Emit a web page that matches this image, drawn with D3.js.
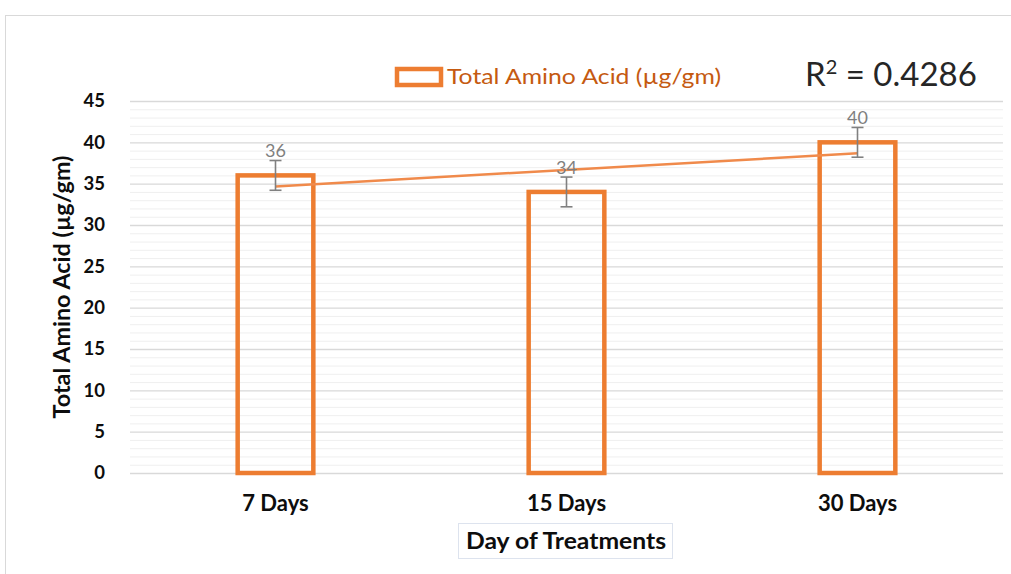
<!DOCTYPE html>
<html>
<head>
<meta charset="utf-8">
<script src="https://cdn.jsdelivr.net/npm/d3@7"></script>
<style>
  body { margin: 0; background: #fff; }
  svg { font-family: Lato, "Open Sans", sans-serif; }
</style>
</head>
<body>
<svg id="chart" width="1011" height="574"></svg>
<script>
const categories = ['7 Days', '15 Days', '30 Days'];
const values = [36, 34, 40];
const errors = [1.8, 1.8, 1.8];
const yTicks = [0, 5, 10, 15, 20, 25, 30, 35, 40, 45];
const seriesName = 'Total Amino Acid (µg/gm)';

const orange = '#ed7d31';
const margin = { left: 130, right: 1003, top: 101, bottom: 473 };

const svg = d3.select('#chart');

// chart frame
svg.append('rect')
  .attr('x', 5.5).attr('y', 15.5)
  .attr('width', 1020).attr('height', 580)
  .attr('fill', 'none')
  .attr('stroke', '#d9d9d9');

const x = d3.scaleBand()
  .domain(categories)
  .range([margin.left, margin.right])
  .paddingInner(0.74)
  .paddingOuter(0.37);

const y = d3.scaleLinear()
  .domain([0, 45])
  .range([margin.bottom, margin.top]);

// minor gridlines every 1 unit
svg.append('g')
  .selectAll('line')
  .data(d3.range(0, 46).filter(v => v % 5 !== 0))
  .join('line')
  .attr('x1', margin.left).attr('x2', margin.right)
  .attr('y1', d => y(d) + 0.5).attr('y2', d => y(d) + 0.5)
  .attr('stroke', '#efefef')
  .attr('stroke-width', 1);

// major gridlines + tick labels
const yAxis = svg.append('g')
  .attr('transform', `translate(${margin.left},0)`)
  .call(d3.axisLeft(y).tickValues(yTicks).tickSize(-(margin.right - margin.left)).tickPadding(25));
yAxis.select('.domain').remove();
yAxis.selectAll('.tick line').attr('stroke', '#d9d9d9').attr('stroke-width', 1.3);
yAxis.selectAll('.tick text')
  .attr('font-family', 'Lato, sans-serif')
  .attr('font-size', 18.5)
  .attr('font-weight', 700)
  .attr('fill', '#0d0d0d');

// bars (outline only)
svg.append('g')
  .selectAll('rect')
  .data(values)
  .join('rect')
  .attr('x', (d, i) => x(categories[i]))
  .attr('y', d => y(d))
  .attr('width', x.bandwidth())
  .attr('height', d => y(0) - y(d))
  .attr('fill', 'none')
  .attr('stroke', orange)
  .attr('stroke-width', 4.5);

// linear trendline fitted to bar values
const xs = values.map((d, i) => i + 1);
const mx = d3.mean(xs), my = d3.mean(values);
const slope = d3.sum(xs, (xv, i) => (xv - mx) * (values[i] - my)) / d3.sum(xs, xv => (xv - mx) ** 2);
const intercept = my - slope * mx;
const fit = xv => intercept + slope * xv;
const ssTot = d3.sum(values, v => (v - my) ** 2);
const ssRes = d3.sum(values, (v, i) => (v - fit(xs[i])) ** 2);
const r2 = 1 - ssRes / ssTot;

const cx = c => x(c) + x.bandwidth() / 2;
svg.append('line')
  .attr('x1', cx(categories[0]))
  .attr('y1', y(fit(1)))
  .attr('x2', cx(categories[categories.length - 1]))
  .attr('y2', y(fit(categories.length)))
  .attr('stroke', '#f08a4b')
  .attr('stroke-width', 2.5);

// error bars
const eb = svg.append('g').attr('stroke', '#808080').attr('stroke-width', 1.6);
values.forEach((v, i) => {
  const c = cx(categories[i]);
  eb.append('line').attr('x1', c).attr('x2', c).attr('y1', y(v + errors[i])).attr('y2', y(v - errors[i]));
  [v + errors[i], v - errors[i]].forEach(e => {
    eb.append('line').attr('x1', c - 6).attr('x2', c + 6).attr('y1', y(e)).attr('y2', y(e));
  });
});

// data labels
svg.append('g')
  .selectAll('text')
  .data(values)
  .join('text')
  .attr('x', (d, i) => cx(categories[i]))
  .attr('y', d => y(d) - 18)
  .attr('text-anchor', 'middle')
  .attr('font-size', 18)
  .attr('fill', '#7f7f7f')
  .text(d => d);

// x labels
svg.append('g')
  .selectAll('text')
  .data(categories)
  .join('text')
  .attr('x', d => cx(d))
  .attr('y', 511)
  .attr('text-anchor', 'middle')
  .attr('font-size', 22)
  .attr('font-weight', 700)
  .attr('fill', '#0d0d0d')
  .text(d => d);

// x axis title in a box
svg.append('rect')
  .attr('x', 458.5).attr('y', 523.5)
  .attr('width', 214).attr('height', 35)
  .attr('fill', '#fff')
  .attr('stroke', '#dde3ee');
svg.append('text')
  .attr('x', 566).attr('y', 549)
  .attr('text-anchor', 'middle')
  .attr('font-size', 23)
  .attr('font-weight', 700)
  .attr('fill', '#0d0d0d')
  .attr('textLength', 200)
  .attr('lengthAdjust', 'spacingAndGlyphs')
  .text('Day of Treatments');

// y axis title
svg.append('text')
  .attr('transform', `translate(70,${(margin.top + margin.bottom) / 2}) rotate(-90)`)
  .attr('text-anchor', 'middle')
  .attr('font-size', 22)
  .attr('font-weight', 700)
  .attr('fill', '#0d0d0d')
  .attr('textLength', 263)
  .attr('lengthAdjust', 'spacingAndGlyphs')
  .text('Total Amino Acid  (µg/gm)');

// legend
svg.append('rect')
  .attr('x', 397).attr('y', 69)
  .attr('width', 44).attr('height', 16)
  .attr('fill', '#fff')
  .attr('stroke', orange)
  .attr('stroke-width', 4.5);
svg.append('text')
  .attr('x', 447).attr('y', 84)
  .attr('font-size', 22)
  .attr('fill', '#c55a11')
  .attr('textLength', 274)
  .attr('lengthAdjust', 'spacingAndGlyphs')
  .text(seriesName);

// R squared
const r2Text = svg.append('text')
  .attr('x', 805).attr('y', 86)
  .attr('font-size', 33)
  .attr('fill', '#262626');
r2Text.append('tspan').text('R');
r2Text.append('tspan').attr('font-size', 20).attr('dy', -12).text('2');
r2Text.append('tspan').attr('dy', 12).text(' = ' + r2.toFixed(4));
</script>
</body>
</html>
